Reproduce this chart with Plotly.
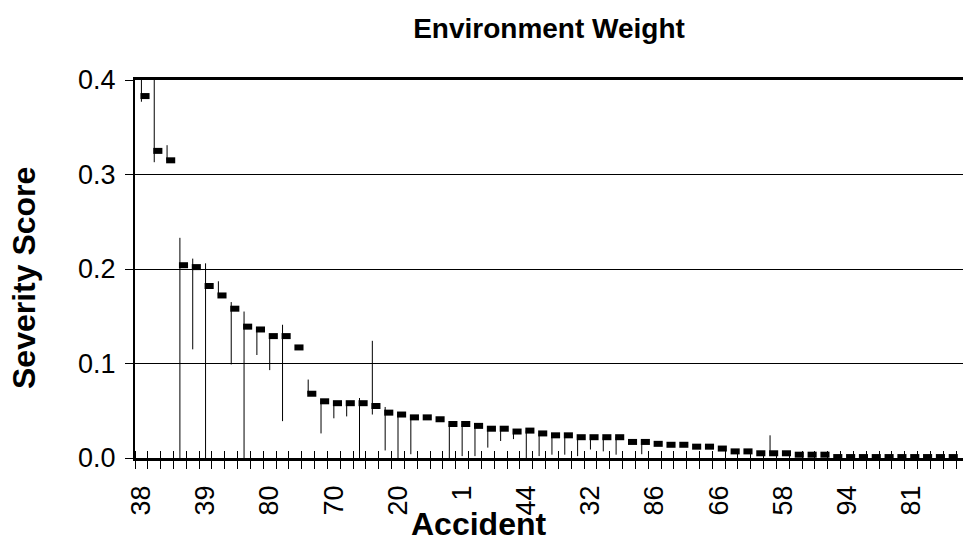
import plotly.graph_objects as go

# ---- data ----
tick_labels = ["38", "39", "80", "70", "20", "1", "44", "32", "86", "66", "58", "94", "81"]
label_step = 5  # one label every 5 accidents

scores = [0.383, 0.325, 0.315, 0.204, 0.202, 0.182, 0.172, 0.158, 0.139, 0.136,
          0.129, 0.129, 0.117, 0.068, 0.060, 0.058, 0.058, 0.058, 0.055, 0.048,
          0.046, 0.043, 0.043, 0.041, 0.036, 0.036, 0.034, 0.031, 0.031, 0.028,
          0.029, 0.026, 0.024, 0.024, 0.022, 0.022, 0.022, 0.022, 0.017, 0.017,
          0.015, 0.014, 0.014, 0.012, 0.012, 0.010, 0.007, 0.007, 0.005, 0.005,
          0.005, 0.0035, 0.0035, 0.0035, 0.001, 0.001, 0.001, 0.001, 0.001, 0.001,
          0.001, 0.001, 0.001, 0.001]

range_low = [0.377, 0.313, 0.315, 0.000, 0.115, 0.000, 0.172, 0.099, 0.000, 0.109,
             0.093, 0.039, 0.117, 0.068, 0.026, 0.042, 0.044, 0.000, 0.046, 0.008,
             0.000, 0.004, 0.043, 0.041, 0.000, 0.002, 0.002, 0.011, 0.018, 0.020,
             0.000, 0.002, 0.0035, 0.0035, 0.002, 0.009, 0.007, 0.0035, 0.017, 0.004,
             0.015, 0.014, 0.014, 0.012, 0.012, 0.010, 0.007, 0.007, 0.005, 0.005,
             0.005, 0.0035, 0.0035, 0.0035, 0.001, 0.001, 0.001, 0.001, 0.001, 0.001,
             0.001, 0.001, 0.001, 0.001]

range_high = [0.405, 0.405, 0.331, 0.233, 0.211, 0.206, 0.187, 0.165, 0.155, 0.136,
              0.129, 0.141, 0.117, 0.083, 0.060, 0.058, 0.058, 0.0635, 0.124, 0.054,
              0.046, 0.043, 0.043, 0.041, 0.036, 0.036, 0.034, 0.031, 0.031, 0.028,
              0.029, 0.026, 0.024, 0.024, 0.022, 0.022, 0.022, 0.022, 0.017, 0.017,
              0.015, 0.014, 0.014, 0.012, 0.012, 0.010, 0.007, 0.007, 0.005, 0.024,
              0.005, 0.0035, 0.0035, 0.0035, 0.001, 0.001, 0.001, 0.001, 0.001, 0.001,
              0.001, 0.001, 0.001, 0.001]

n = len(scores)
idx = list(range(n))
marker_offset = 0.28

# high-low lines built from the range arrays (None breaks between segments)
lx, ly = [], []
for i in idx:
    lx += [i, i, None]
    ly += [range_low[i], range_high[i], None]

FONT = "Liberation Sans, Arial, sans-serif"

fig = go.Figure()
fig.add_trace(go.Scatter(x=lx, y=ly, mode="lines", xaxis="x2",
                         line=dict(color="black", width=1), showlegend=False,
                         hoverinfo="skip"))
fig.add_trace(go.Scatter(x=[i + marker_offset for i in idx], y=scores, mode="markers",
                         marker=dict(symbol="line-ew", size=6.5,
                                     line=dict(color="black", width=6)),
                         showlegend=False, cliponaxis=False))

xr = [-0.5, 64.04]
fig.update_layout(
    width=963, height=543,
    margin=dict(l=135, r=0, t=80, b=85),
    paper_bgcolor="white", plot_bgcolor="white",
    font=dict(family=FONT, color="black"),
    title=dict(text="<b>Environment Weight</b>", x=0.5, xref="paper",
               y=1 - 28 / 543, yanchor="middle", xanchor="center",
               font=dict(size=28, family=FONT, color="black")),
    xaxis=dict(range=xr, showgrid=False, zeroline=False,
               showline=True, linecolor="black", linewidth=2.5, mirror=True,
               tickmode="array",
               tickvals=[k * label_step for k in range(len(tick_labels))],
               ticktext=tick_labels, tickangle=-90,
               ticks="", ticklen=0, ticklabelstandoff=14,
               tickfont=dict(size=27, family=FONT, color="black"),
               minor=dict(tickmode="linear", tick0=-0.5, dtick=1, ticks="outside",
                          ticklen=8, tickcolor="black", tickwidth=1, showgrid=False)),
    xaxis2=dict(range=xr, overlaying="x", anchor="y", side="bottom",
                showgrid=False, zeroline=False, showline=False,
                showticklabels=False, ticks="",
                minor=dict(tickmode="linear", tick0=-0.5, dtick=1, ticks="inside",
                           ticklen=7, tickcolor="black", tickwidth=1, showgrid=False)),
    yaxis=dict(range=[0, 0.4], dtick=0.1, tick0=0, tickformat=".1f",
               showgrid=True, gridcolor="black", gridwidth=1, zeroline=False,
               showline=True, linecolor="black", linewidth=2,
               ticks="outside", ticklen=8, tickcolor="black", ticklabelstandoff=4,
               tickfont=dict(size=27, family=FONT, color="black")),
    annotations=[
        dict(text="<b>Severity Score</b>", xref="paper", yref="paper",
             x=(24 - 135) / 828, y=(458 - 278) / 378, xanchor="center", yanchor="middle",
             textangle=-90, showarrow=False,
             font=dict(size=32, family=FONT, color="black")),
        dict(text="<b>Accident</b>", xref="paper", yref="paper",
             x=(478 - 135) / 828, y=(458 - 524) / 378, xanchor="center",
             yanchor="middle", showarrow=False,
             font=dict(size=32, family=FONT, color="black")),
    ],
)

fig.write_html("out.html", config={"displayModeBar": False},
               post_script="document.body.style.margin='0';")
